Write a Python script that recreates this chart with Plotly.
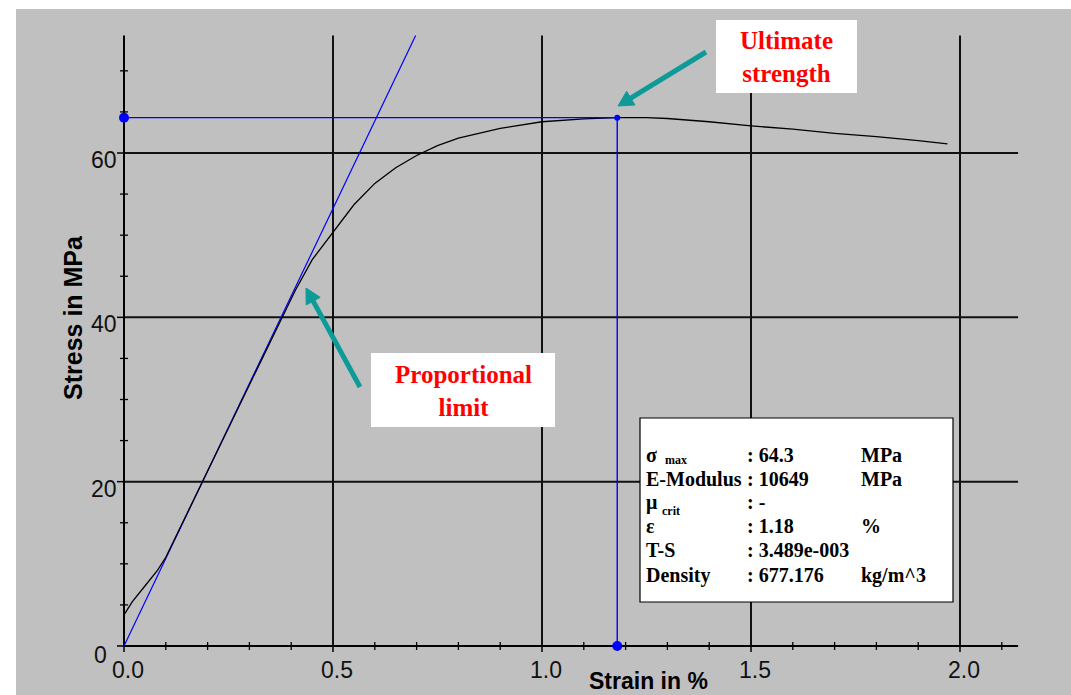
import math
import plotly.graph_objects as go

# ---- measured tensile test data ----
strain = [0.0, 0.02, 0.05, 0.08, 0.10, 0.12, 0.15, 0.20, 0.25, 0.30, 0.35, 0.38,
          0.41, 0.45, 0.50, 0.55, 0.60, 0.65, 0.70, 0.75, 0.80, 0.90, 1.00, 1.10,
          1.18, 1.25, 1.30, 1.40, 1.50, 1.60, 1.70, 1.80, 1.90, 1.97]
stress = [3.8, 5.4, 7.3, 9.2, 10.8, 12.9, 16.0, 21.3, 26.6, 31.9, 37.2, 40.3,
          43.3, 47.0, 50.4, 53.7, 56.3, 58.2, 59.7, 60.9, 61.8, 63.0, 63.8, 64.15,
          64.3, 64.3, 64.2, 63.8, 63.3, 62.9, 62.4, 62.0, 61.5, 61.1]

sigma_max = 64.3          # MPa
eps_at_max = 1.18         # %
e_modulus = 10649         # MPa
mu_crit = "-"
t_s = "3.489e-003"
density = "677.176"

x_ticks = [0.0, 0.5, 1.0, 1.5, 2.0]
x_tick_labels = ["0.0", "0.5", "1.0", "1.5", "2.0"]
y_ticks = [0, 20, 40, 60]
y_tick_labels = ["0", "20", "40", "60"]
x_minor = [0.1, 0.2, 0.3, 0.4, 0.6, 0.7, 0.8, 0.9, 1.1, 1.2, 1.3, 1.4,
           1.6, 1.7, 1.8, 1.9, 2.1]
y_minor = [5, 10, 15, 25, 30, 35, 45, 50, 55, 65, 70]

x_end = 2.139   # end of drawn x axis
y_end = 74.3    # end of drawn y axis

# ---- figure geometry (plot area = grey panel) ----
W, H = 1071, 695
L, T = 16, 9
PW, PH = W - L, H - T


def px(x):
    return (x - L) / PW


def py(y):
    return (H - y) / PH


BLUE = "#0000ff"
GRID = "#111111"
TEAL = "#0e9b97"
AX_FONT = "Liberation Sans, Arial, sans-serif"
SERIF = "Liberation Serif, Times New Roman, serif"

fig = go.Figure()

# proportional line from the E-modulus (MPa per % strain)
slope = e_modulus / 100.0
fig.add_trace(go.Scatter(x=[0, y_end / slope], y=[0, y_end], mode="lines",
                         line=dict(color=BLUE, width=1.2), hoverinfo="skip"))
# stress-strain curve
fig.add_trace(go.Scatter(x=strain, y=stress, mode="lines",
                         line=dict(color="#000000", width=1.3)))
# ultimate strength guide lines
fig.add_trace(go.Scatter(x=[0, eps_at_max], y=[sigma_max, sigma_max], mode="lines",
                         line=dict(color=BLUE, width=1.4)))
fig.add_trace(go.Scatter(x=[eps_at_max, eps_at_max], y=[sigma_max, 0], mode="lines",
                         line=dict(color=BLUE, width=1.4)))
fig.add_trace(go.Scatter(x=[0, eps_at_max], y=[sigma_max, 0], mode="markers",
                         marker=dict(color=BLUE, size=10)))
fig.add_trace(go.Scatter(x=[eps_at_max], y=[sigma_max], mode="markers",
                         marker=dict(color=BLUE, size=6)))

shapes = []
# grid lines
for v in x_ticks[1:]:
    shapes.append(dict(type="line", xref="x", yref="y", x0=v, x1=v, y0=0, y1=y_end,
                       line=dict(color=GRID, width=2), layer="below"))
for v in y_ticks[1:]:
    shapes.append(dict(type="line", xref="x", yref="y", x0=0, x1=x_end, y0=v, y1=v,
                       line=dict(color=GRID, width=2), layer="below"))
# axis lines
shapes.append(dict(type="line", xref="x", yref="y", x0=0, x1=0, y0=0, y1=y_end,
                   line=dict(color="#000", width=2), layer="below"))
shapes.append(dict(type="line", xref="x", yref="y", x0=0, x1=x_end, y0=0, y1=0,
                   line=dict(color="#000", width=2), layer="below"))
# ticks
for v in x_minor:
    shapes.append(dict(type="line", xref="x", yref="y", x0=v, x1=v, ysizemode="pixel",
                       yanchor=0, y0=-4, y1=4, line=dict(color="#000", width=1.3)))
for v in x_ticks:
    shapes.append(dict(type="line", xref="x", yref="y", x0=v, x1=v, ysizemode="pixel",
                       yanchor=0, y0=-6, y1=0, line=dict(color="#000", width=1.5)))
for v in y_minor:
    shapes.append(dict(type="line", xref="x", yref="y", y0=v, y1=v, xsizemode="pixel",
                       xanchor=0, x0=-4, x1=4, line=dict(color="#000", width=1.3)))
for v in y_ticks:
    shapes.append(dict(type="line", xref="x", yref="y", y0=v, y1=v, xsizemode="pixel",
                       xanchor=0, x0=-7, x1=0, line=dict(color="#000", width=1.5)))

# label boxes
shapes.append(dict(type="rect", xref="paper", yref="paper", x0=px(716), x1=px(857),
                   y0=py(93), y1=py(20), fillcolor="#ffffff", line=dict(width=0)))
shapes.append(dict(type="rect", xref="paper", yref="paper", x0=px(371), x1=px(555),
                   y0=py(427), y1=py(353), fillcolor="#ffffff", line=dict(width=0)))
shapes.append(dict(type="rect", xref="paper", yref="paper", x0=px(640), x1=px(953),
                   y0=py(602), y1=py(418), fillcolor="#ffffff",
                   line=dict(color="#000", width=1.2)))


def arrow(tail, tip, head_len=15, head_half=8, width=5):
    """Thick callout arrow (shaft + filled triangular head), pixel positions."""
    (x0, y0), (x1, y1) = tail, tip
    d = math.hypot(x1 - x0, y1 - y0)
    ux, uy = (x1 - x0) / d, (y1 - y0) / d
    bx, by = x1 - ux * head_len, y1 - uy * head_len
    nx, ny = -uy, ux
    out = [dict(type="line", xref="paper", yref="paper",
                x0=px(x0), y0=py(y0), x1=px(bx + ux * 2), y1=py(by + uy * 2),
                line=dict(color=TEAL, width=width))]
    pts = [(x1, y1), (bx + nx * head_half, by + ny * head_half),
           (bx - nx * head_half, by - ny * head_half)]
    path = "M " + " L ".join("%f %f" % (px(a), py(b)) for a, b in pts) + " Z"
    out.append(dict(type="path", xref="paper", yref="paper", path=path,
                    fillcolor=TEAL, line=dict(color=TEAL, width=1)))
    return out


shapes += arrow((706, 52), (618, 106))
shapes += arrow((360, 387), (306, 288))

ann = []
TICK_FONT = dict(family=AX_FONT, size=23, color="#111")
# tick labels
for v, t in zip(x_ticks, x_tick_labels):
    ann.append(dict(x=v, y=0, xref="x", yref="y", text=t, showarrow=False,
                    xanchor="center", yanchor="middle", xshift=4, yshift=-24,
                    font=TICK_FONT))
for v, t in zip(y_ticks, y_tick_labels):
    if v == 0:
        ann.append(dict(x=0, y=v, xref="x", yref="y", text=t, showarrow=False,
                        xanchor="center", yanchor="middle", xshift=-24, yshift=-9,
                        font=TICK_FONT))
    else:
        ann.append(dict(x=0, y=v, xref="x", yref="y", text=t, showarrow=False,
                        xanchor="right", yanchor="middle", xshift=-5, yshift=-7,
                        font=TICK_FONT))

# axis titles
ann.append(dict(x=px(73), y=py(318), xref="paper", yref="paper", text="<b>Stress in MPa</b>",
                textangle=-90, showarrow=False, xanchor="center", yanchor="middle",
                font=dict(family=AX_FONT, size=25, color="#000")))
ann.append(dict(x=px(648), y=py(681), xref="paper", yref="paper", text="<b>Strain in %</b>",
                showarrow=False, xanchor="center", yanchor="middle",
                font=dict(family=AX_FONT, size=23, color="#000")))

# red callouts
ann.append(dict(x=px(786), y=py(57), xref="paper", yref="paper",
                text="<b>Ultimate<br>strength</b>", showarrow=False,
                xanchor="center", yanchor="middle", align="center",
                font=dict(family=SERIF, size=25, color="#ff0000")))
ann.append(dict(x=px(463), y=py(391), xref="paper", yref="paper",
                text="<b>Proportional<br>limit</b>", showarrow=False,
                xanchor="center", yanchor="middle", align="center",
                font=dict(family=SERIF, size=25, color="#ff0000")))

# results table
rows = [
    ("σ", ": %.1f" % sigma_max, "MPa", 455),
    ("E-Modulus", ": %d" % e_modulus, "MPa", 479),
    ("μ", ": " + mu_crit, "", 502),
    ("ε", ": %.2f" % eps_at_max, "%", 526),
    ("T-S", ": " + t_s, "", 550),
    ("Density", ": " + density, "kg/m^3", 575),
]
BOX_FONT = dict(family=SERIF, size=20, color="#000")
for name, val, unit, yy in rows:
    ann.append(dict(x=px(645), y=py(yy), xref="paper", yref="paper", text="<b>%s</b>" % name,
                    showarrow=False, xanchor="left", yanchor="middle", font=BOX_FONT,
                    borderpad=0))
    ann.append(dict(x=px(746), y=py(yy), xref="paper", yref="paper", text="<b>%s</b>" % val,
                    showarrow=False, xanchor="left", yanchor="middle", font=BOX_FONT,
                    borderpad=0))
    if unit:
        ann.append(dict(x=px(860), y=py(yy), xref="paper", yref="paper", text="<b>%s</b>" % unit,
                        showarrow=False, xanchor="left", yanchor="middle", font=BOX_FONT,
                        borderpad=0))
# subscripts
SUB_FONT = dict(family=SERIF, size=12, color="#000")
ann.append(dict(x=px(664), y=py(460), xref="paper", yref="paper", text="<b>max</b>",
                showarrow=False, xanchor="left", yanchor="middle", font=SUB_FONT, borderpad=0))
ann.append(dict(x=px(661), y=py(511), xref="paper", yref="paper", text="<b>crit</b>",
                showarrow=False, xanchor="left", yanchor="middle", font=SUB_FONT, borderpad=0))

fig.update_layout(
    width=W, height=H,
    margin=dict(l=L, r=0, t=T, b=0, pad=0),
    paper_bgcolor="#ffffff",
    plot_bgcolor="#c0c0c0",
    showlegend=False,
    xaxis=dict(range=[(L - 124) / 418, (W - 124) / 418], visible=False, fixedrange=True),
    yaxis=dict(range=[-(H - 646) / 8.2167, (646 - T) / 8.2167], visible=False, fixedrange=True),
    shapes=shapes,
    annotations=ann,
)

fig.write_html("out.html")
